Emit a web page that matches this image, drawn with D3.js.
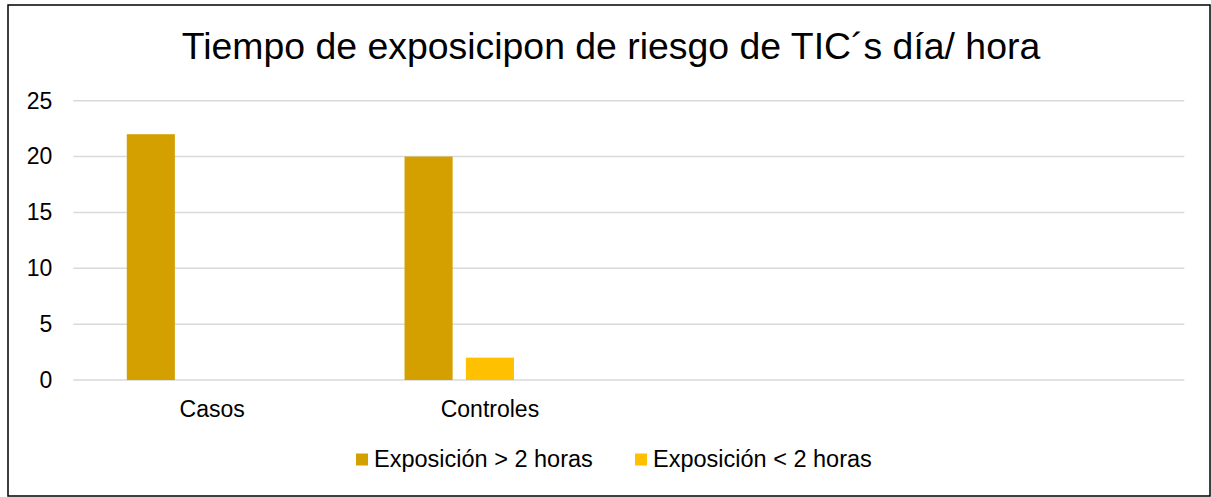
<!DOCTYPE html>
<html>
<head>
<meta charset="utf-8">
<script src="https://cdn.jsdelivr.net/npm/d3@7"></script>
<style>
  body { margin: 0; background: #fff; }
  svg { display: block; font-family: "Liberation Sans", Arial, sans-serif; }
</style>
</head>
<body>
<div id="container"></div>
<script>
// chart data
const categories = ["Casos", "Controles", "", ""];
const seriesNames = ["Exposición > 2 horas", "Exposición < 2 horas", ""];
const masDeDosHoras = [22, 20, null, null];
const menosDeDosHoras = [0, 2, null, null];
const serieVacia = [null, null, null, null];
const yTicks = [0, 5, 10, 15, 20, 25];
const colors = ["#D4A000", "#FFC000", "#A5A5A5"];

const seriesValues = [masDeDosHoras, menosDeDosHoras, serieVacia];

const width = 1211, height = 497;
const plot = { left: 73.3, right: 1184.3, top: 100.7, bottom: 380 };

const svg = d3.select("#container").append("svg")
    .attr("width", width)
    .attr("height", height);

// outer frame
svg.append("rect")
    .attr("x", 8).attr("y", 5)
    .attr("width", 1202).attr("height", 491)
    .attr("fill", "#fff")
    .attr("stroke", "#000")
    .attr("stroke-width", 1.5);

svg.append("text")
    .attr("x", 611).attr("y", 59)
    .attr("text-anchor", "middle")
    .attr("font-size", 37.4)
    .attr("fill", "#000")
    .text("Tiempo de exposicipon de riesgo de TIC´s día/ hora");

let x0 = d3.scaleBand()
    .domain(d3.range(categories.length))
    .range([plot.left, plot.right]);

let x1 = d3.scaleBand()
    .domain(d3.range(seriesNames.length))
    .range([0, x0.bandwidth()])
    .paddingInner(0.216)
    .paddingOuter(0.872);

let y = d3.scaleLinear()
    .domain([0, 25])
    .range([plot.bottom, plot.top]);

// gridlines
svg.append("g")
    .selectAll("line")
    .data(yTicks)
    .enter()
    .append("line")
    .attr("x1", plot.left)
    .attr("x2", plot.right)
    .attr("y1", d => y(d))
    .attr("y2", d => y(d))
    .attr("stroke", "#d9d9d9")
    .attr("stroke-width", 1.5);

let yAxis = svg.append("g")
    .attr("transform", `translate(${plot.left},0)`)
    .call(d3.axisLeft(y).tickValues(yTicks).tickSize(0).tickPadding(21));
yAxis.select(".domain").remove();
yAxis.selectAll("text")
    .attr("font-size", 23)
    .attr("font-family", "Liberation Sans, Arial, sans-serif")
    .attr("fill", "#000");

let xAxis = svg.append("g")
    .attr("transform", `translate(0,${plot.bottom})`)
    .call(d3.axisBottom(x0).tickSize(0).tickFormat(i => categories[i]));
xAxis.select(".domain").remove();
xAxis.selectAll("text")
    .attr("y", 36.7)
    .attr("dy", 0)
    .attr("font-size", 23)
    .attr("font-family", "Liberation Sans, Arial, sans-serif")
    .attr("fill", "#000");

// bars
seriesValues.forEach((vals, s) => {
    svg.append("g")
        .selectAll("rect")
        .data(vals.map((v, i) => ({ i: i, v: v })).filter(d => d.v !== null && d.v > 0))
        .enter()
        .append("rect")
        .attr("x", d => x0(d.i) + x1(s))
        .attr("y", d => y(d.v))
        .attr("width", x1.bandwidth())
        .attr("height", d => y(0) - y(d.v))
        .attr("fill", colors[s]);
});

// legend
const legendX = [356, 635];
const legend = svg.append("g");
seriesNames.forEach((name, s) => {
    if (!name) return;
    legend.append("rect")
        .attr("x", legendX[s]).attr("y", 453.5)
        .attr("width", 12).attr("height", 12)
        .attr("fill", colors[s]);
    legend.append("text")
        .attr("x", legendX[s] + 18).attr("y", 467.3)
        .attr("font-size", 23.5)
        .attr("fill", "#000")
        .text(name);
});
</script>
</body>
</html>
